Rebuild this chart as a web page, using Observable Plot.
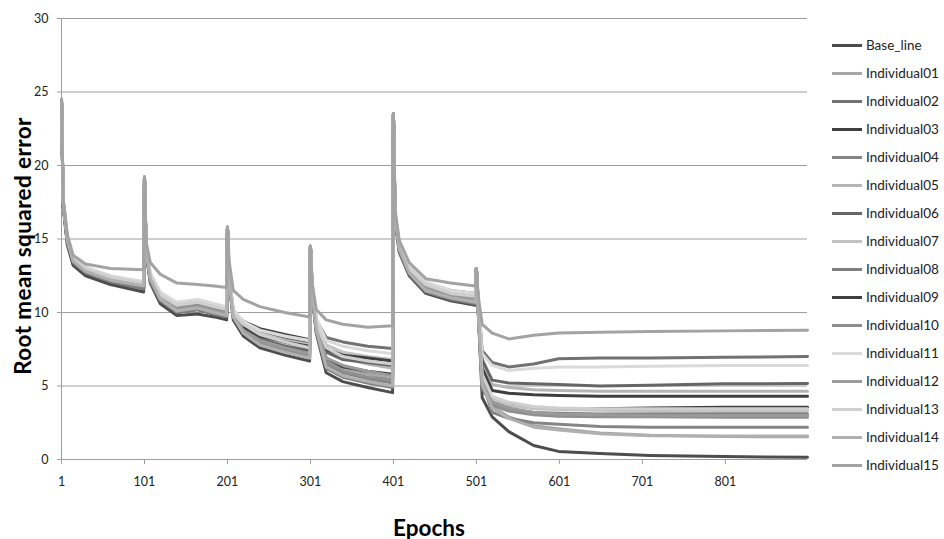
<!DOCTYPE html>
<html>
<head>
<meta charset="utf-8">
<script src="https://cdn.jsdelivr.net/npm/d3@7"></script>
<script src="https://cdn.jsdelivr.net/npm/@observablehq/plot@0.6"></script>
<style>
  html, body { margin: 0; padding: 0; background: #fff; }
  #wrap { position: relative; width: 944px; height: 539px; overflow: hidden; font-family: Lato, "Open Sans", sans-serif; }
  #chart { position: absolute; left: 0; top: 0; }
  .ytitle { position: absolute; left: 22px; top: 246px; transform: translate(-50%, -50%) rotate(-90deg); white-space: nowrap; font-weight: 700; font-size: 22.5px; letter-spacing: 0.4px; color: #000; }
  .xtitle { position: absolute; left: 429px; top: 527px; transform: translate(-50%, -50%); white-space: nowrap; font-weight: 700; font-size: 22.5px; color: #000; }
  #legend { position: absolute; left: 832px; top: 31px; }
  .lg { display: flex; align-items: center; height: 28px; font-size: 13.5px; color: #222; white-space: nowrap; }
  .sw { width: 30px; height: 3px; margin-right: 4px; }
</style>
</head>
<body>
<div id="wrap">
  <div id="chart"></div>
  <div class="ytitle">Root mean squared error</div>
  <div class="xtitle">Epochs</div>
  <div id="legend"></div>
</div>
<script>
// Sampled epochs (shared by all series)
const epochs = [
  1, 3, 8, 15, 30, 60, 100,
  101, 103, 108, 120, 140, 165, 185, 200,
  201, 203, 208, 220, 240, 270, 300,
  301, 303, 308, 320, 340, 370, 400,
  401, 403, 408, 420, 440, 470, 500,
  501, 503, 508, 520, 540, 570, 600, 650, 710, 800, 900
];

const seriesNames = ["Base_line", "Individual01", "Individual02", "Individual03", "Individual04",
  "Individual05", "Individual06", "Individual07", "Individual08", "Individual09", "Individual10",
  "Individual11", "Individual12", "Individual13", "Individual14", "Individual15"];

const seriesColors = ["#4d4d4d", "#a6a6a6", "#727272", "#404040", "#858585",
  "#b5b5b5", "#666666", "#c2c2c2", "#7f7f7f", "#3f3f3f", "#8f8f8f",
  "#dadada", "#9a9a9a", "#cfcfcf", "#b0b0b0", "#a3a3a3"];

const baseLine = [
  24.5, 17.2, 14.6, 13.2, 12.5, 11.9, 11.4,
  19.2, 14.0, 12.0, 10.6, 9.8, 9.9, 9.7, 9.5,
  15.8, 12.0, 9.5, 8.4, 7.6, 7.1, 6.7,
  14.5, 11.2, 8.6, 5.9, 5.3, 4.9, 4.55,
  23.5, 16.2, 14.1, 12.5, 11.3, 10.8, 10.5,
  13.0, 10.2, 4.2, 2.9, 1.9, 0.95, 0.55, 0.4, 0.28, 0.2, 0.15
];
const ind01 = [
  24.5, 17.5, 15.0, 13.6, 12.9, 12.3, 11.9,
  19.2, 14.3, 12.4, 11.1, 10.3, 10.5, 10.2, 10.0,
  15.8, 12.4, 9.9, 9.0, 8.3, 7.7, 7.3,
  14.5, 11.6, 9.0, 6.8, 6.2, 5.8, 5.5,
  23.5, 16.6, 14.5, 12.9, 11.8, 11.2, 10.9,
  13.0, 10.6, 5.0, 3.6, 2.9, 2.3, 2.1, 1.8, 1.65, 1.56, 1.55
];
const ind02 = [
  24.5, 17.6, 15.1, 13.7, 13.0, 12.4, 12.0,
  19.2, 14.4, 12.5, 11.2, 10.4, 10.6, 10.3, 10.1,
  15.8, 12.5, 10.0, 9.2, 8.6, 8.2, 7.9,
  14.5, 12.0, 9.5, 8.3, 8.0, 7.7, 7.55,
  23.5, 16.8, 14.6, 13.0, 12.0, 11.5, 11.3,
  13.0, 11.0, 7.4, 6.6, 6.3, 6.5, 6.85, 6.9, 6.9, 6.95, 7.0
];
const ind03 = [
  24.5, 17.3, 14.8, 13.4, 12.7, 12.1, 11.6,
  19.2, 14.2, 12.2, 10.8, 10.0, 10.2, 9.9, 9.7,
  15.8, 12.5, 10.1, 9.4, 8.9, 8.5, 8.15,
  14.5, 11.5, 8.9, 6.9, 6.3, 6.0, 5.8,
  23.5, 16.4, 14.3, 12.7, 11.5, 11.0, 10.7,
  13.0, 10.3, 5.2, 4.0, 3.7, 3.5, 3.45, 3.45, 3.5, 3.55, 3.56
];
const ind04 = [
  24.5, 17.4, 14.9, 13.5, 12.8, 12.2, 11.7,
  19.2, 14.2, 12.2, 10.9, 10.1, 10.3, 10.0, 9.8,
  15.8, 12.2, 9.7, 8.7, 7.9, 7.4, 7.0,
  14.5, 11.4, 8.8, 6.5, 5.9, 5.5, 5.2,
  23.5, 16.5, 14.4, 12.8, 11.6, 11.1, 10.8,
  13.0, 10.4, 5.3, 3.2, 2.8, 2.5, 2.4, 2.25, 2.2, 2.2, 2.2
];
const ind05 = [
  24.5, 17.6, 15.1, 13.7, 13.0, 12.4, 12.0,
  19.2, 14.4, 12.5, 11.2, 10.4, 10.7, 10.4, 10.2,
  15.8, 12.4, 10.0, 9.1, 8.4, 7.9, 7.5,
  14.5, 11.8, 9.2, 7.4, 6.9, 6.5, 6.2,
  23.5, 16.7, 14.6, 13.0, 11.9, 11.3, 11.1,
  13.0, 10.8, 6.6, 5.1, 4.9, 4.75, 4.7, 4.65, 4.65, 4.65, 4.65
];
const ind06 = [
  24.5, 17.4, 14.9, 13.5, 12.8, 12.2, 11.7,
  19.2, 14.3, 12.3, 11.0, 10.2, 10.4, 10.1, 9.9,
  15.8, 12.3, 9.8, 8.9, 8.2, 7.7, 7.4,
  14.5, 11.7, 9.1, 7.3, 6.8, 6.6, 6.4,
  23.5, 16.6, 14.4, 12.8, 11.7, 11.2, 10.9,
  13.0, 10.9, 6.8, 5.4, 5.2, 5.15, 5.1, 5.0, 5.05, 5.15, 5.17
];
const ind07 = [
  24.5, 17.6, 15.1, 13.7, 13.0, 12.4, 12.1,
  19.2, 14.5, 12.6, 11.3, 10.6, 10.8, 10.5, 10.3,
  15.8, 12.6, 10.1, 9.3, 8.6, 8.1, 7.8,
  14.5, 11.9, 9.4, 7.8, 7.3, 7.0, 6.8,
  23.5, 16.8, 14.7, 13.1, 12.0, 11.4, 11.2,
  13.0, 10.5, 5.6, 4.1, 3.7, 3.45, 3.4, 3.35, 3.3, 3.33, 3.33
];
const ind08 = [
  24.5, 17.3, 14.8, 13.4, 12.7, 12.1, 11.6,
  19.2, 14.1, 12.1, 10.8, 10.0, 10.2, 9.9, 9.7,
  15.8, 12.1, 9.7, 8.6, 7.8, 7.3, 6.9,
  14.5, 11.3, 8.7, 6.2, 5.6, 5.2, 4.9,
  23.5, 16.4, 14.2, 12.6, 11.4, 10.9, 10.6,
  13.0, 10.3, 4.8, 3.8, 3.4, 3.2, 3.15, 3.1, 3.1, 3.12, 3.12
];
const ind09 = [
  24.5, 17.5, 15.0, 13.6, 12.9, 12.3, 11.8,
  19.2, 14.3, 12.4, 11.0, 10.2, 10.4, 10.1, 9.9,
  15.8, 12.4, 9.9, 9.0, 8.4, 8.0, 7.7,
  14.5, 11.8, 9.2, 7.5, 7.1, 6.9, 6.7,
  23.5, 16.6, 14.5, 12.9, 11.7, 11.2, 10.9,
  13.0, 10.7, 6.2, 4.7, 4.5, 4.4, 4.35, 4.3, 4.3, 4.3, 4.3
];
const ind10 = [
  24.5, 17.5, 15.0, 13.6, 12.9, 12.3, 11.9,
  19.2, 14.3, 12.4, 11.1, 10.3, 10.5, 10.2, 10.0,
  15.8, 12.3, 9.8, 8.8, 8.0, 7.5, 7.1,
  14.5, 11.5, 8.9, 6.6, 6.0, 5.6, 5.4,
  23.5, 16.5, 14.4, 12.8, 11.6, 11.1, 10.8,
  13.0, 10.4, 5.0, 3.7, 3.3, 3.05, 2.95, 2.9, 2.9, 2.88, 2.88
];
const ind11 = [
  24.5, 17.7, 15.2, 13.8, 13.1, 12.5, 12.1,
  19.2, 14.6, 12.7, 11.4, 10.7, 10.9, 10.6, 10.4,
  15.8, 12.7, 10.2, 9.4, 8.8, 8.4, 8.1,
  14.5, 12.1, 9.6, 8.1, 7.7, 7.4, 7.2,
  23.5, 16.9, 14.8, 13.2, 12.1, 11.5, 11.3,
  13.0, 11.0, 7.2, 6.4, 6.05, 6.2, 6.3, 6.3, 6.35, 6.4, 6.4
];
const ind12 = [
  24.5, 17.5, 15.0, 13.6, 12.9, 12.3, 11.8,
  19.2, 14.3, 12.3, 11.0, 10.2, 10.4, 10.1, 9.9,
  15.8, 12.3, 9.8, 8.8, 8.1, 7.6, 7.2,
  14.5, 11.6, 9.0, 6.9, 6.4, 6.0, 5.7,
  23.5, 16.6, 14.5, 12.9, 11.7, 11.2, 10.9,
  13.0, 10.5, 5.4, 3.9, 3.5, 3.2, 3.1, 3.05, 3.0, 3.0, 3.0
];
const ind13 = [
  24.5, 17.6, 15.1, 13.7, 13.0, 12.4, 12.0,
  19.2, 14.4, 12.5, 11.2, 10.5, 10.7, 10.4, 10.2,
  15.8, 12.5, 10.0, 9.2, 8.5, 8.0, 7.6,
  14.5, 11.8, 9.3, 7.6, 7.0, 6.7, 6.5,
  23.5, 16.7, 14.6, 13.0, 11.9, 11.3, 11.1,
  13.0, 10.6, 5.8, 4.3, 3.9, 3.6, 3.5, 3.45, 3.45, 3.45, 3.45
];
const ind14 = [
  24.5, 17.4, 14.9, 13.5, 12.8, 12.2, 11.8,
  19.2, 14.2, 12.3, 10.9, 10.1, 10.3, 10.0, 9.8,
  15.8, 12.2, 9.7, 8.6, 7.8, 7.3, 6.9,
  14.5, 11.4, 8.8, 6.3, 5.7, 5.3, 5.0,
  23.5, 16.5, 14.3, 12.7, 11.5, 11.0, 10.7,
  13.0, 10.5, 5.1, 3.5, 2.8, 2.2, 2.0, 1.75, 1.62, 1.6, 1.6
];
const ind15 = [
  24.5, 17.8, 15.3, 13.9, 13.3, 13.0, 12.9,
  19.2, 14.8, 13.4, 12.6, 12.0, 11.9, 11.8, 11.7,
  15.8, 13.5, 11.5, 10.9, 10.4, 10.0, 9.7,
  14.5, 12.0, 10.2, 9.5, 9.2, 9.0, 9.1,
  23.5, 17.0, 14.9, 13.4, 12.3, 12.0, 11.8,
  13.0, 11.2, 9.2, 8.6, 8.2, 8.45, 8.6, 8.65, 8.7, 8.75, 8.8
];

const seriesValues = [baseLine, ind01, ind02, ind03, ind04, ind05, ind06, ind07,
  ind08, ind09, ind10, ind11, ind12, ind13, ind14, ind15];

const yTicks = [0, 5, 10, 15, 20, 25, 30];
const xTicks = [1, 101, 201, 301, 401, 501, 601, 701, 801];

const rows = [];
seriesNames.forEach((name, i) => {
  seriesValues[i].forEach((v, j) => rows.push({series: name, epoch: epochs[j], value: v}));
});

const chart = Plot.plot({
  width: 944,
  height: 539,
  marginLeft: 61,
  marginRight: 137,
  marginTop: 18,
  marginBottom: 80,
  x: {domain: [1, 900]},
  y: {domain: [0, 30]},
  color: {domain: seriesNames, range: seriesColors},
  style: {fontFamily: "Lato, 'Open Sans', sans-serif", fontSize: "12px", background: "#fff", overflow: "visible"},
  marks: [
    Plot.gridY(yTicks, {stroke: "#9d9d9d", strokeOpacity: 1}),
    Plot.axisY(yTicks, {tickSize: 4, tickPadding: 9, label: null, stroke: "#9d9d9d", fill: "#222", fontSize: 12.5}),
    Plot.axisX(xTicks, {tickSize: 5, tickPadding: 13, label: null, stroke: "#9d9d9d", fill: "#222", fontSize: 12.5}),
    Plot.ruleY([0], {stroke: "#9d9d9d"}),
    Plot.ruleX([1], {stroke: "#9d9d9d"}),
    Plot.line(rows, {x: "epoch", y: "value", z: "series", stroke: "series", strokeWidth: 3, strokeLinejoin: "round"})
  ]
});
document.getElementById("chart").appendChild(chart);

const legend = document.getElementById("legend");
seriesNames.forEach((name, i) => {
  const row = document.createElement("div");
  row.className = "lg";
  const sw = document.createElement("div");
  sw.className = "sw";
  sw.style.background = seriesColors[i];
  const t = document.createElement("span");
  t.textContent = name;
  row.appendChild(sw);
  row.appendChild(t);
  legend.appendChild(row);
});
</script>
</body>
</html>
